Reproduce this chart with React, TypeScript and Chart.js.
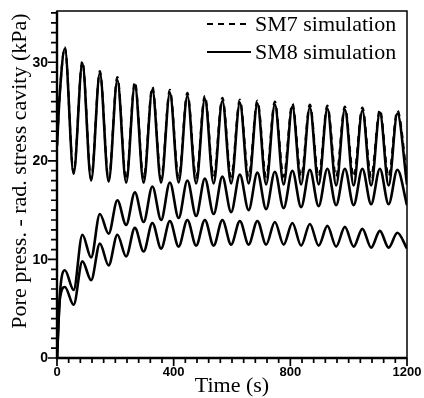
import React, { useEffect, useRef } from "react";
import { Chart, registerables } from "chart.js";

Chart.register(...registerables);

// ---- data ----
const time = [
  0, 10, 27, 57, 87, 117, 147, 177, 207, 237, 267, 297, 327, 357, 387, 417, 447, 477, 507, 537,
  567, 597, 627, 657, 687, 717, 747, 777, 807, 837, 867, 897, 927, 957, 987, 1017, 1047, 1077,
  1107, 1137, 1167, 1200,
];

// upper pair (dashed SM7 / solid SM8)
const sm7Upper = [
  21.5, 27.0, 31.5, 18.8, 30.1, 18.2, 29.1, 18.1, 28.5, 18.1, 28.0, 18.2, 27.5, 18.2, 27.2, 18.3,
  26.9, 18.3, 26.6, 18.4, 26.4, 18.4, 26.2, 18.4, 26.1, 18.4, 26.0, 18.4, 25.8, 18.4, 25.7, 18.4,
  25.6, 18.4, 25.5, 18.4, 25.4, 18.4, 25.2, 18.4, 25.1, 18.4,
];
const sm8Upper = [
  21.5, 27.0, 31.4, 18.7, 29.9, 18.0, 28.9, 17.9, 28.2, 17.8, 27.7, 17.8, 27.2, 17.8, 26.9, 17.8,
  26.6, 17.7, 26.3, 17.7, 26.1, 17.7, 25.9, 17.7, 25.8, 17.6, 25.7, 17.6, 25.5, 17.6, 25.4, 17.6,
  25.3, 17.5, 25.2, 17.5, 25.1, 17.5, 24.9, 17.5, 24.8, 17.6,
];
// lower pair
const sm7Lower = [
  0, 6.5, 8.9, 6.9, 12.5, 10.2, 14.6, 12.6, 16.0, 13.5, 16.8, 13.8, 17.4, 14.0, 17.8, 14.2, 18.0,
  14.4, 18.2, 14.6, 18.4, 14.8, 18.6, 15.0, 18.8, 15.1, 18.9, 15.2, 19.0, 15.3, 19.1, 15.4, 19.2,
  15.5, 19.2, 15.5, 19.2, 15.6, 19.2, 15.6, 19.1, 15.5,
];
const sm8Lower = [
  0, 6.0, 7.2, 5.4, 9.8, 7.9, 11.6, 9.4, 12.5, 10.3, 13.2, 10.8, 13.7, 11.1, 13.9, 11.3, 14.0,
  11.4, 14.0, 11.4, 14.0, 11.5, 13.9, 11.5, 13.9, 11.5, 13.8, 11.5, 13.7, 11.4, 13.6, 11.4, 13.4,
  11.3, 13.3, 11.3, 13.1, 11.2, 12.9, 11.2, 12.7, 11.1,
];

const xTickLabels = [0, 400, 800, 1200];
const yTickLabels = [0, 10, 20, 30];
const xMinorStep = 40;
const yMinorStep = 1;
const xMin = 0;
const xMax = 1200;
const yMin = 0;
const yMax = 35.2;
const seriesLabels = ["SM7 simulation", "SM8 simulation"];
const xTitle = "Time (s)";
const yTitle = "Pore press. - rad. stress cavity (kPa)";

const toPoints = (ys: number[]) => time.map((t, i) => ({ x: t, y: ys[i] }));

const SERIF = '"Liberation Serif", "DejaVu Serif", serif';
const XTICKFONT = 'bold 13px "Liberation Sans", Arial, sans-serif';
const YTICKFONT = 'bold 14px "Liberation Sans", Arial, sans-serif';
const DASH = [6, 5];

export default function App() {
  const ref = useRef<HTMLCanvasElement>(null);

  useEffect(() => {
    const canvas = ref.current!;
    const decor = {
      id: "decor",
      afterDraw(chart: any) {
        const { ctx, chartArea: a, scales } = chart;
        const xs = scales.x;
        const ys = scales.y;
        ctx.save();
        ctx.strokeStyle = "#000";
        ctx.fillStyle = "#000";

        // frame
        ctx.lineWidth = 1.5;
        ctx.strokeRect(a.left, a.top, a.right - a.left, a.bottom - a.top);
        ctx.lineWidth = 2.4;
        ctx.beginPath();
        ctx.moveTo(a.left, a.top);
        ctx.lineTo(a.left, a.bottom);
        ctx.lineTo(a.right, a.bottom);
        ctx.stroke();

        // ticks
        ctx.lineWidth = 1.7;
        ctx.beginPath();
        const nx = Math.round((xMax - xMin) / xMinorStep);
        for (let i = 0; i <= nx; i++) {
          const v = xMin + i * xMinorStep;
          const px = xs.getPixelForValue(v);
          const major = xTickLabels.includes(v);
          ctx.moveTo(px, a.bottom);
          ctx.lineTo(px, a.bottom + (major ? 8 : 5));
        }
        const ny = Math.floor((yMax - yMin) / yMinorStep + 1e-9);
        for (let i = 0; i <= ny; i++) {
          const v = yMin + i * yMinorStep;
          const py = ys.getPixelForValue(v);
          const major = yTickLabels.includes(v);
          ctx.moveTo(a.left, py);
          ctx.lineTo(a.left - (major ? 9 : 6), py);
        }
        ctx.stroke();

        // tick labels
        ctx.font = XTICKFONT;
        ctx.textAlign = "center";
        ctx.textBaseline = "top";
        xTickLabels.forEach((v) => {
          ctx.fillText(String(v), xs.getPixelForValue(v), a.bottom + 8);
        });
        ctx.font = YTICKFONT;
        ctx.textAlign = "right";
        ctx.textBaseline = "middle";
        yTickLabels.forEach((v) => {
          ctx.fillText(String(v), a.left - 9, ys.getPixelForValue(v) + 0.5);
        });

        // axis titles
        ctx.font = `22px ${SERIF}`;
        ctx.textAlign = "center";
        ctx.textBaseline = "alphabetic";
        ctx.fillText(xTitle, (a.left + a.right) / 2, 392);
        ctx.save();
        ctx.translate(26, 171);
        ctx.rotate(-Math.PI / 2);
        ctx.fillText(yTitle, 0, 0);
        ctx.restore();

        // legend
        ctx.lineWidth = 1.8;
        ctx.setLineDash(DASH);
        ctx.beginPath();
        ctx.moveTo(207, 24);
        ctx.lineTo(251, 24);
        ctx.stroke();
        ctx.setLineDash([]);
        ctx.beginPath();
        ctx.moveTo(207, 52);
        ctx.lineTo(251, 52);
        ctx.stroke();
        ctx.textAlign = "left";
        ctx.fillText(seriesLabels[0], 255, 31);
        ctx.fillText(seriesLabels[1], 255, 59);

        ctx.restore();
      },
    };

    const common = {
      borderColor: "#000",
      pointRadius: 0,
      fill: false,
      cubicInterpolationMode: "monotone" as const,
    };

    const chart = new Chart(canvas, {
      type: "line",
      data: {
        datasets: [
          { ...common, label: seriesLabels[0], data: toPoints(sm7Upper), borderWidth: 2.2, borderDash: DASH },
          { ...common, label: seriesLabels[1], data: toPoints(sm8Upper), borderWidth: 2.6 },
          { ...common, label: seriesLabels[0] + " (lower)", data: toPoints(sm7Lower), borderWidth: 2.6 },
          { ...common, label: seriesLabels[1] + " (lower)", data: toPoints(sm8Lower), borderWidth: 2.6 },
        ],
      },
      options: {
        animation: false,
        responsive: false,
        devicePixelRatio: 1,
        layout: { padding: { left: 0, top: 11, right: 17, bottom: 0 } },
        plugins: { legend: { display: false }, tooltip: { enabled: false } },
        scales: {
          x: {
            type: "linear",
            min: xMin,
            max: xMax,
            grid: { display: false },
            border: { display: false },
            ticks: { display: false },
            afterFit: (s: any) => {
              s.height = 40;
            },
          },
          y: {
            type: "linear",
            min: yMin,
            max: yMax,
            grid: { display: false },
            border: { display: false },
            ticks: { display: false },
            afterFit: (s: any) => {
              s.width = 57;
            },
          },
        },
      },
      plugins: [decor],
    });
    return () => chart.destroy();
  }, []);

  return (
    <div style={{ position: "absolute", left: 0, top: 0, width: 424, height: 398, background: "#fff" }}>
      <canvas ref={ref} width={424} height={398} style={{ display: "block" }} />
    </div>
  );
}
